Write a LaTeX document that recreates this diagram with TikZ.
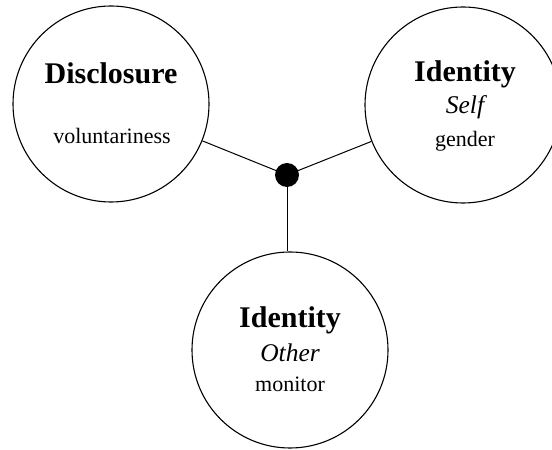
\documentclass[tikz,border=0pt]{standalone}
\usepackage{fontspec}
\setmainfont{Liberation Serif}
\begin{document}
\begin{tikzpicture}[x=1pt,y=1pt,
  bubble/.style={draw, circle, line width=1.1pt, minimum size=196pt, inner sep=0pt},
  hub/.style={circle, fill=black, minimum size=24pt, inner sep=0pt},
  conn/.style={line width=1pt},
  ttl/.style={anchor=base, inner sep=0pt, font=\fontsize{30}{34}\selectfont\bfseries},
  sub/.style={anchor=base, inner sep=0pt, font=\fontsize{25.5}{28}\selectfont\itshape},
  lbl/.style={anchor=base, inner sep=0pt, font=\fontsize{22}{26}\selectfont}]
\useasboundingbox (0,0) rectangle (552,450);
\node[bubble] (disc) at (111,346) {};
\node[bubble] (self) at (463,345) {};
\node[bubble] (other) at (290,100) {};
\node[hub] (dot) at (287,275) {};
\draw[conn] (dot.center) -- (disc);
\draw[conn] (dot.center) -- (self);
\draw[conn] (dot.center) -- (dot.center |- other.north);
\node[ttl] (t1) at (111,366) {Disclosure};
\node[lbl] (l1) at (112,306) {voluntariness};
\node[ttl] (t2) at (465,368) {Identity};
\node[sub] (s2) at (465,336) {Self};
\node[lbl] (l2) at (465,303) {gender};
\node[ttl] (t3) at (290,122) {Identity};
\node[sub] (s3) at (290,88) {Other};
\node[lbl] (l3) at (290,58) {monitor};
\end{tikzpicture}
\end{document}
